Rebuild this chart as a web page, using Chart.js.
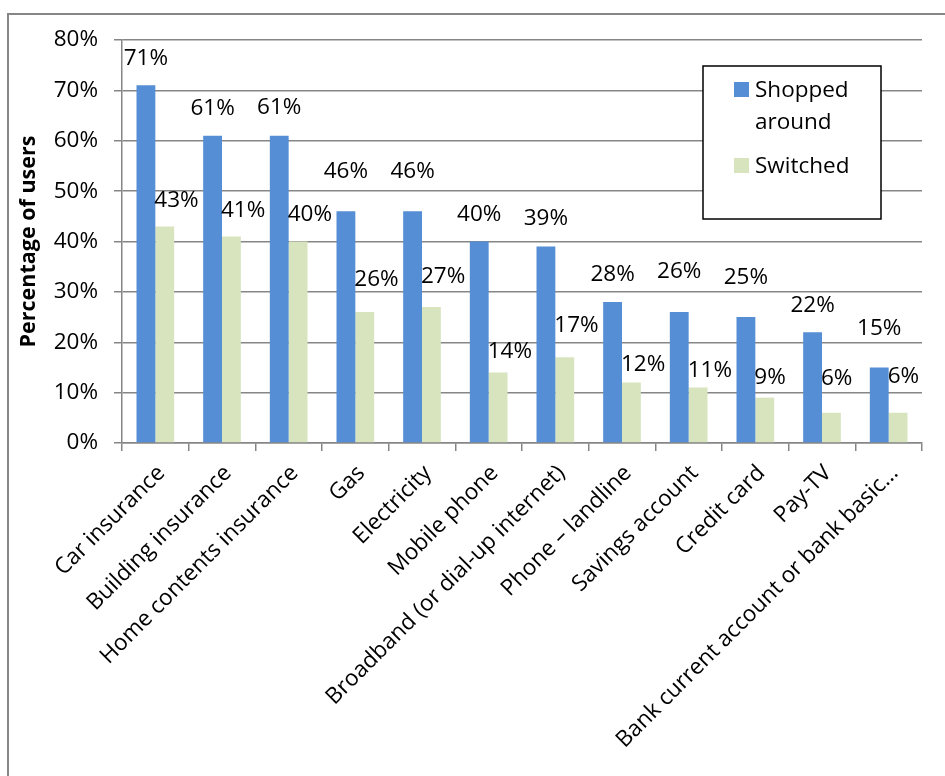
<!DOCTYPE html>
<html>
<head>
<meta charset="utf-8">
<script src="https://cdn.jsdelivr.net/npm/chart.js@4/dist/chart.umd.min.js"></script>
<style>
  html, body { margin: 0; padding: 0; background: #ffffff; }
  #wrap { position: relative; width: 945px; height: 776px; }
</style>
</head>
<body>
<div id="wrap"><canvas id="chart" width="945" height="776"></canvas></div>
<script>
// Share of users who shopped around / switched, by product
const categories = [
  'Car insurance', 'Building insurance', 'Home contents insurance', 'Gas',
  'Electricity', 'Mobile phone', 'Broadband (or dial-up internet)',
  'Phone – landline', 'Savings account', 'Credit card', 'Pay-TV',
  'Bank current account or bank basic…'
];
const shoppedAround = [71, 61, 61, 46, 46, 40, 39, 28, 26, 25, 22, 15];
const switched      = [43, 41, 40, 26, 27, 14, 17, 12, 11, 9, 6, 6];
const yTickValues   = [0, 10, 20, 30, 40, 50, 60, 70, 80];

// How far (px) each value label sits above the top of its bar
const shoppedLabelLift  = [27, 27, 28, 40, 40, 27, 28, 27, 40, 39, 27, 39];
const switchedLabelLift = [26, 26, 27, 32, 30, 21, 32, 18, 17, 20, 34, 36];

const FONT = '"Open Sans", "Noto Sans", sans-serif';
const GRID = '#868686';
const BLUE = '#558ED5';
const GREEN = '#D7E4BD';

// Outer frame of the chart
const framePlugin = {
  id: 'frame',
  beforeDraw(chart) {
    const ctx = chart.ctx;
    ctx.save();
    ctx.fillStyle = '#ffffff';
    ctx.fillRect(0, 0, chart.width, chart.height);
    ctx.strokeStyle = GRID;
    ctx.lineWidth = 2;
    ctx.beginPath();
    ctx.moveTo(8, chart.height + 2);
    ctx.lineTo(8, 14);
    ctx.lineTo(chart.width + 2, 14);
    ctx.stroke();
    ctx.restore();
  }
};

// Percentage labels above the bars
const valueLabelPlugin = {
  id: 'valueLabels',
  afterDatasetsDraw(chart) {
    const ctx = chart.ctx;
    ctx.save();
    ctx.font = '22.5px ' + FONT;
    ctx.fillStyle = '#000000';
    ctx.textBaseline = 'middle';
    chart.getDatasetMeta(0).data.forEach((bar, i) => {
      ctx.textAlign = 'center';
      ctx.fillText(shoppedAround[i] + '%', bar.x, bar.y - shoppedLabelLift[i]);
    });
    chart.getDatasetMeta(1).data.forEach((bar, i) => {
      ctx.textAlign = 'left';
      ctx.fillText(switched[i] + '%', bar.x - bar.width / 2 - 1, bar.y - switchedLabelLift[i]);
    });
    ctx.restore();
  }
};

// Boxed legend in the upper right of the plot
const boxLegendPlugin = {
  id: 'boxLegend',
  afterDraw(chart) {
    const ctx = chart.ctx;
    const ds = chart.data.datasets;
    ctx.save();
    ctx.fillStyle = '#ffffff';
    ctx.fillRect(703, 66, 178, 153);
    ctx.strokeStyle = '#000000';
    ctx.lineWidth = 1.5;
    ctx.strokeRect(703, 66, 178, 153);

    ctx.font = '22.5px ' + FONT;
    ctx.textAlign = 'left';
    ctx.textBaseline = 'alphabetic';

    ctx.fillStyle = ds[0].backgroundColor;
    ctx.fillRect(734, 82, 15, 15);
    ctx.fillStyle = '#000000';
    ctx.fillText('Shopped', 755, 97);
    ctx.fillText('around', 755, 129);

    ctx.fillStyle = ds[1].backgroundColor;
    ctx.fillRect(734, 158, 15, 15);
    ctx.fillStyle = '#000000';
    ctx.fillText(ds[1].label, 755, 173);
    ctx.restore();
  }
};

new Chart(document.getElementById('chart'), {
  type: 'bar',
  data: {
    labels: categories,
    datasets: [
      { label: 'Shopped around', data: shoppedAround, backgroundColor: BLUE },
      { label: 'Switched', data: switched, backgroundColor: GREEN }
    ]
  },
  options: {
    responsive: false,
    animation: false,
    layout: { padding: { top: 40, right: 23, left: 0, bottom: 0 } },
    datasets: { bar: { categoryPercentage: 0.565, barPercentage: 1.0 } },
    plugins: {
      legend: { display: false },
      tooltip: { enabled: false }
    },
    scales: {
      x: {
        grid: { drawOnChartArea: false, drawTicks: true, tickLength: 8, color: GRID, lineWidth: 1.5, offset: true },
        border: { color: GRID, width: 1.5 },
        ticks: {
          autoSkip: false, minRotation: 45, maxRotation: 45, padding: 9, labelOffset: 6,
          color: '#000000', font: { family: FONT, size: 22.5 }
        },
        afterFit(scale) { scale.height = 333; }
      },
      y: {
        min: 0, max: 80,
        afterBuildTicks(scale) { scale.ticks = yTickValues.map(v => ({ value: v })); },
        grid: { color: GRID, lineWidth: 1.5, tickLength: 8 },
        border: { color: GRID, width: 1.5 },
        ticks: {
          padding: 16, color: '#000000', font: { family: FONT, size: 22.5 },
          callback: v => v + '%'
        },
        title: {
          display: true, text: 'Percentage of users', color: '#000000',
          font: { family: FONT, size: 21.5, weight: 'bold' },
          padding: { top: 16, bottom: 0 }
        },
        afterFit(scale) { scale.width = 122; }
      }
    }
  },
  plugins: [framePlugin, valueLabelPlugin, boxLegendPlugin]
});
</script>
</body>
</html>
